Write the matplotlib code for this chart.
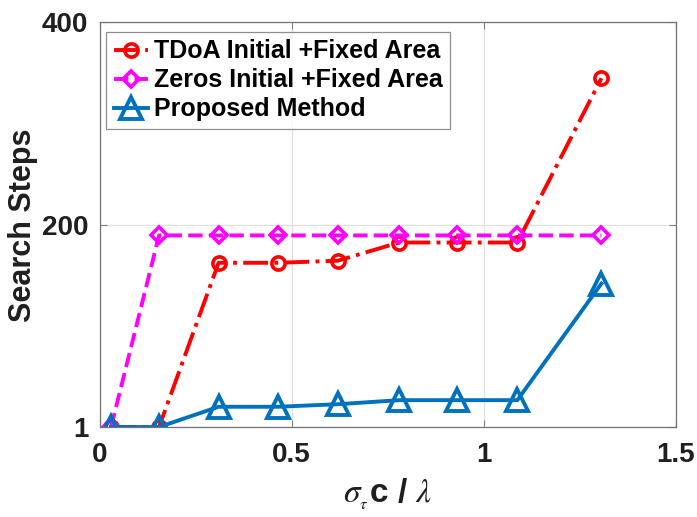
import matplotlib
matplotlib.use("Agg")
import matplotlib.pyplot as plt

x = [0.03, 0.155, 0.31, 0.465, 0.62, 0.78, 0.932, 1.088, 1.307]
tdoa = [1, 1, 163, 163, 165, 183, 183, 183, 345]
zeros = [1, 190, 190, 190, 190, 190, 190, 190, 190]
proposed = [1, 1, 21, 21, 23.5, 27.5, 27.5, 27.5, 142.5]
labels = ["TDoA Initial +Fixed Area", "Zeros Initial +Fixed Area", "Proposed Method"]
xticks = [0, 0.5, 1, 1.5]
yticks = [1, 200, 400]

plt.rcParams['font.family'] = ['Liberation Sans', 'DejaVu Sans']
plt.rcParams['mathtext.fontset'] = 'stix'

fig = plt.figure(figsize=(6.97, 5.17), dpi=100)
ax = fig.add_axes([0.1428, 0.174, 0.8264, 0.7825])

ax.plot(x, tdoa, color=(1, 0, 0), linestyle='-.', linewidth=2.8, marker='o',
        markersize=9.5, markerfacecolor='none', markeredgewidth=2.6, label=labels[0])
ax.plot(x, zeros, color=(1, 0, 1), linestyle='--', linewidth=2.8, marker='D',
        markersize=8, markerfacecolor='none', markeredgewidth=2.6, label=labels[1])
ax.plot(x, proposed, color=(0, 0.447, 0.741), linestyle='-', linewidth=2.8, marker='^',
        markersize=16, markerfacecolor='none', markeredgewidth=2.8, label=labels[2])

ax.set_xlim(0, 1.5)
ax.set_ylim(1, 400)
ax.set_xticks(xticks)
ax.set_xticklabels(['0', '0.5', '1', '1.5'])
ax.set_yticks(yticks)
ax.set_yticklabels(['1', '200', '400'])
ax.grid(True, color=(0.88, 0.88, 0.88), linewidth=0.9)
ax.set_axisbelow(True)
ax.tick_params(direction='in', top=True, right=True, length=5, width=0.8,
               labelsize=20, colors=(0.5, 0.5, 0.5), labelcolor=(0.12, 0.12, 0.12))
ax.tick_params(axis='x', pad=11)
ax.tick_params(axis='y', pad=8)
for lab in ax.get_xticklabels() + ax.get_yticklabels():
    lab.set_fontweight('bold')
for s in ax.spines.values():
    s.set_color((0.45, 0.45, 0.45))
    s.set_linewidth(0.9)

ax.set_ylabel('Search Steps', fontsize=22, fontweight='bold', color=(0.12, 0.12, 0.12), labelpad=3)
ax.set_xlabel(r'$\sigma_{_{\tau}}$c / $\lambda$', fontsize=24, fontweight='bold',
              color=(0.12, 0.12, 0.12), labelpad=6)

leg = ax.legend(loc='upper left', bbox_to_anchor=(0.012, 0.977),
                prop={'weight': 'bold', 'size': 18}, frameon=True, fancybox=False,
                edgecolor=(0.45, 0.45, 0.45), handlelength=1.35, handletextpad=0.25,
                borderpad=0.3, labelspacing=0.2, borderaxespad=0)
leg.get_frame().set_linewidth(0.9)

fig.savefig('out.png', dpi=100)
